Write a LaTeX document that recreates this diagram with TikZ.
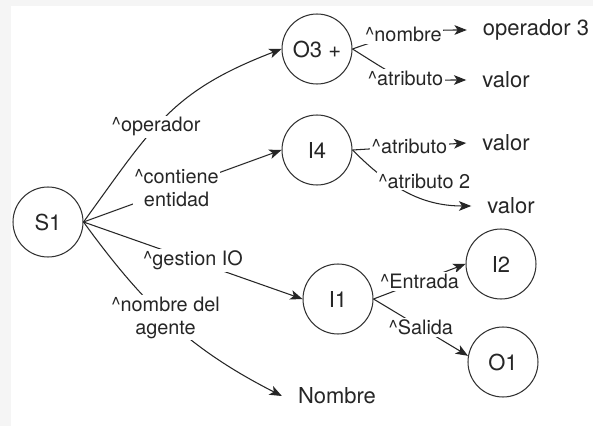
\documentclass[tikz,border=0pt]{standalone}
\usepackage{fontspec}
\setmainfont{TeX Gyre Heros}
\usetikzlibrary{arrows.meta}
\tikzset{
        state/.style={circle, draw=black!80, line width=0.6pt, minimum size=1.4cm, inner sep=0pt, text=black!85, font=\fontsize{12.5}{15}\selectfont},
        value/.style={inner xsep=9pt, inner ysep=2pt, text=black!85, font=\fontsize{12.5}{15}\selectfont},
        lbl/.style={fill=white, inner sep=1pt, text=black!85, align=center, font=\fontsize{11.3}{13}\selectfont},
        arr/.style={draw=black!85, line width=0.6pt, -{Stealth[length=7pt, width=5.5pt, inset=1.8pt]}}
          }

\begin{document}
\begin{tikzpicture}[x=0.02cm, y=-0.02cm]
            \useasboundingbox (0,0) rectangle (593,426);
            \fill[black!4] (0,0) rectangle (593,426);
            \fill[white] (11,6) rectangle (593,426);
            % states
            \node[state] (S1) at (48,222) {S1};
            \node[state] (O3) at (317,49) {O3 +};
            \node[state] (I4) at (317,150) {I4};
            \node[state] (I1) at (338,299) {I1};
            \node[state] (I2) at (501,264) {I2};
            \node[state] (O1) at (503,362) {O1};
            % values
            \node[value] (op3) at (536,30) {operador 3};
            \node[value] (val1) at (506,80) {valor};
            \node[value] (val2) at (506,143) {valor};
            \node[value] (val3) at (511,206) {valor};
            \node[value] (nom) at (337,396) {Nombre};
            % links
            \draw[arr] (S1.east) to[out=54, in=201, looseness=1.15] node[lbl, pos=0.43]{\textasciicircum operador} (O3.west);
            \draw[arr] (S1.east) -- node[lbl, pos=0.47]{\textasciicircum contiene\\entidad} (I4.west);
            \draw[arr] (S1.east) -- node[lbl]{\textasciicircum gestion IO} (I1.west);
            \draw[arr] (S1.east) to[out=-54, in=153] node[lbl, pos=0.47]{\textasciicircum nombre del\\agente} (nom.west);
            \draw[arr] (O3.east) to[out=20, in=180] node[lbl, pos=0.45]{\textasciicircum nombre} (op3.west);
            \draw[arr] (O3.east) to[out=-32, in=180, looseness=1.5] node[lbl]{\textasciicircum atributo} (val1.west);
            \draw[arr] (I4.east) -- node[lbl]{\textasciicircum atributo} (val2.west);
            \draw[arr] (I4.east) to[out=-45, in=180] node[lbl, pos=0.22, anchor=north west]{\textasciicircum atributo 2} (val3.west);
            \draw[arr] (I1.east) -- node[lbl]{\textasciicircum Entrada} (I2.west);
            \draw[arr] (I1.east) -- node[lbl]{\textasciicircum Salida} (O1.170);
\end{tikzpicture}
\end{document}
